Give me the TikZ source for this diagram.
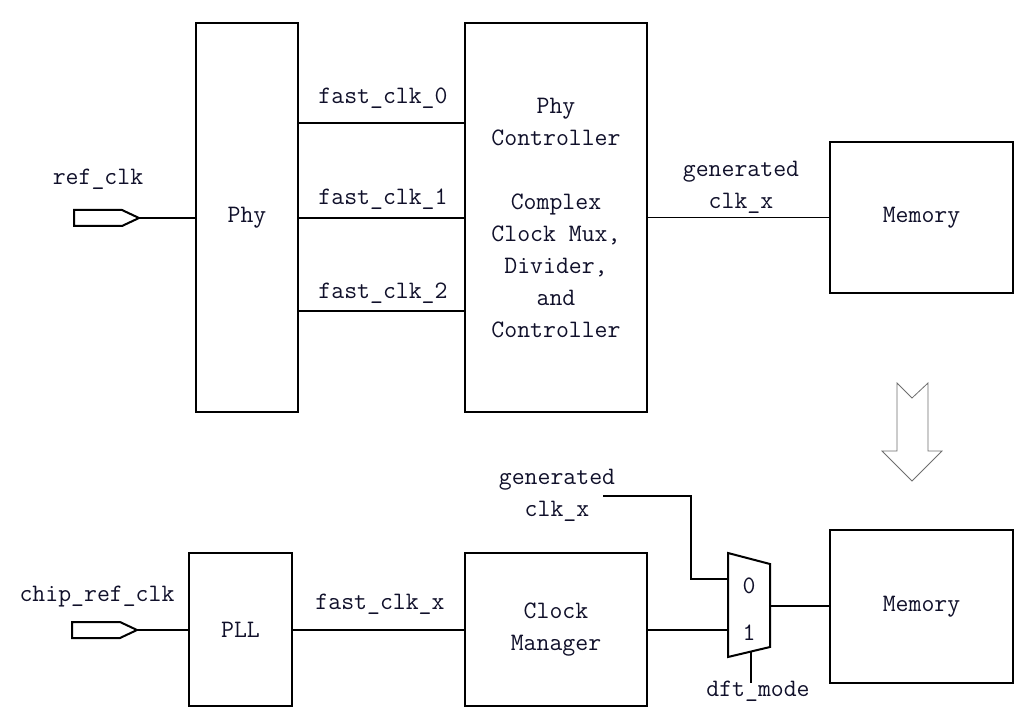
\documentclass[tikz,border=0pt]{standalone}
\usepackage{fontspec}
\usepackage{tikz}
\usetikzlibrary{positioning}
\definecolor{cink}{HTML}{10102A}
\definecolor{carrow}{HTML}{6E6E6E}

\begin{document}
\begin{tikzpicture}[x=0.75pt, y=-0.75pt,
  txt/.style={font=\fontsize{18.8}{24}\selectfont\ttfamily, text=cink, inner sep=0pt, align=center},
  blk/.style={draw=black, line width=1.5pt, fill=white},
  wire/.style={draw=black, line width=1pt},
  port/.style={draw=black, line width=1.5pt, line join=miter, fill=white}]

  \useasboundingbox (0,0) rectangle (1023,720);

  %% top row blocks
  \node[blk, txt, minimum width=76.5pt, minimum height=291.75pt] (phy) at (247,217.5) {Phy};
  \node[blk, txt, minimum width=136.5pt, minimum height=291.75pt] (ctrl) at (556,217.5)
    {Phy\\Controller\\[24pt]Complex\\Clock Mux,\\Divider,\\and\\Controller};
  \node[blk, txt, minimum width=137.25pt, minimum height=113.25pt] (mtop) at (921.5,217.5) {Memory};

  %% bottom row blocks
  \node[blk, txt, minimum width=77.25pt, minimum height=114.75pt] (pll) at (240.5,629.5) {PLL};
  \node[blk, txt, minimum width=136.5pt, minimum height=114.75pt] (cmgr) at (556,629.5) {Clock\\Manager};
  \node[blk, txt, minimum width=137.25pt, minimum height=114.75pt] (mbot) at (921.5,606.5) {Memory};

  %% input ports
  \foreach \px/\py/\nm in {139/218/refpin, 137/630/chippin}{
    \draw[port] (\px-65,\py-8) -- (\px-17,\py-8) -- (\px,\py) -- (\px-17,\py+8) -- (\px-65,\py+8) -- cycle;
    \coordinate (\nm) at (\px,\py);
  }
  \node[txt] (lref) at (98,179) {ref\_clk};
  \node[txt] (lchip) at (97,597) {chip\_ref\_clk};

  %% top connectors
  \draw[wire] (refpin) -- (refpin -| phy.west);
  \foreach \yy/\ly/\n in {123/98/0, 218/199/1, 311/293/2}{
    \coordinate (f\n) at (0,\yy);
    \draw[wire] (phy.east |- f\n) -- (ctrl.west |- f\n);
    \node[txt] (lf\n) at (383,\ly) {fast\_clk\_\n};
  }
  \draw[wire] (ctrl.east |- mtop.west) -- (mtop.west);
  \node[txt] (lgen) at (741,187) {generated\\clk\_x};

  %% hollow arrow between the two views
  \draw[carrow, line width=0.6pt, fill=white] (897,383) -- (912,398) -- (928,383) -- (928,451)
    -- (942,451) -- (912,481) -- (882,451) -- (897,451) -- cycle;

  %% mux
  \draw[blk, line join=miter] (728,553) -- (770,564) -- (770,647) -- (728,657) -- cycle;
  \coordinate (in0) at (728,579);
  \coordinate (in1) at (728,630);
  \coordinate (muxout) at (770,606);
  \coordinate (muxsel) at (751,652);
  \coordinate (selend) at (751,683);
  \node[txt] (l0) at (749,586) {0};
  \node[txt] (l1) at (749,633) {1};

  %% bottom connectors
  \draw[wire] (chippin) -- (chippin -| pll.west);
  \coordinate (fx) at (0,630);
  \draw[wire] (pll.east |- fx) -- (cmgr.west |- fx);
  \node[txt] (lfx) at (380,604) {fast\_clk\_x};
  \draw[wire] (cmgr.east |- in1) -- (in1);
  \coordinate (gstart) at (603,496);
  \coordinate (gbend) at (691,496);
  \draw[wire] (gstart) -- (gbend) |- (in0);
  \node[txt] (lgen2) at (557,495) {generated\\clk\_x};
  \draw[wire] (muxout) -- (muxout -| mbot.west);
  \draw[wire] (muxsel) -- (selend);
  \node[txt] (ldft) at (758,691) {dft\_mode};

\end{tikzpicture}
\end{document}
